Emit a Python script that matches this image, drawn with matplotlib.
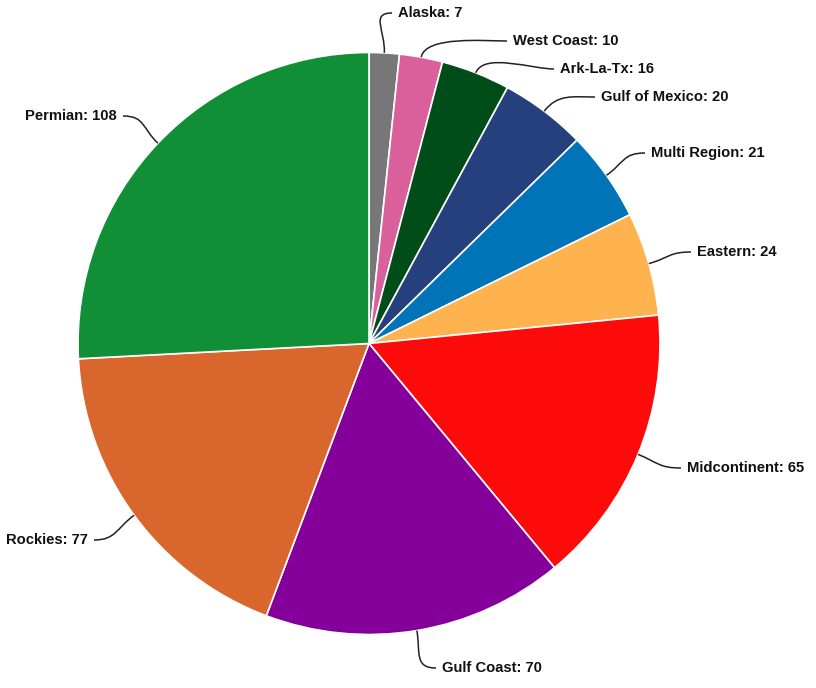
import numpy as np
import matplotlib
matplotlib.use("Agg")
import matplotlib.pyplot as plt
from matplotlib.path import Path
from matplotlib.patches import PathPatch

# data, clockwise from the top
regions = ["Alaska", "West Coast", "Ark-La-Tx", "Gulf of Mexico", "Multi Region",
           "Eastern", "Midcontinent", "Gulf Coast", "Rockies", "Permian"]
counts = [7, 10, 16, 20, 21, 24, 65, 70, 77, 108]
colors = ["#777777", "#d9609a", "#004d1a", "#25407c", "#0074b7",
          "#ffb34f", "#fd0a0a", "#85009b", "#d9662c", "#118f37"]

# label anchors (pixel coords, y down) - layout only
label_pos = [(398, 13), (513, 41), (560, 69), (601, 97), (651, 153),
             (697, 252), (687, 468), (442, 668), (88, 540), (117, 116)]

plt.rcParams['font.family'] = ['Liberation Sans', 'DejaVu Sans']

fig = plt.figure(figsize=(8.16, 6.88), dpi=100)
ax = fig.add_axes([0, 0, 1, 1])

cx, cy, r = 369, 343.5, 291
wedges, _ = ax.pie(counts, colors=colors, startangle=-90, counterclock=True,
                   center=(cx, cy), radius=r, frame=True,
                   wedgeprops=dict(edgecolor="white", linewidth=1.2))
ax.set_xlim(0, 816)
ax.set_ylim(688, 0)
ax.axis('off')

for w, name, n, (lx, ly) in zip(wedges, regions, counts, label_pos):
    mid = np.deg2rad((w.theta1 + w.theta2) / 2)
    dx, dy = np.cos(mid), np.sin(mid)
    p0 = (cx + r * dx, cy + r * dy)
    side = 1 if lx > cx else -1
    p1 = (cx + (r + 22) * dx, cy + (r + 22) * dy)
    end = (lx - side * 6, ly)
    p2 = (end[0] - side * 22, ly)
    path = Path([p0, p1, p2, end], [Path.MOVETO, Path.CURVE4, Path.CURVE4, Path.CURVE4])
    ax.add_patch(PathPatch(path, facecolor="none", edgecolor="#222222", lw=1.1))
    ax.text(lx, ly, f"{name}: {n}", ha="left" if side > 0 else "right", va="center",
            fontsize=10.6, fontweight="bold", color="#111111")

fig.savefig("out.png", dpi=100)
